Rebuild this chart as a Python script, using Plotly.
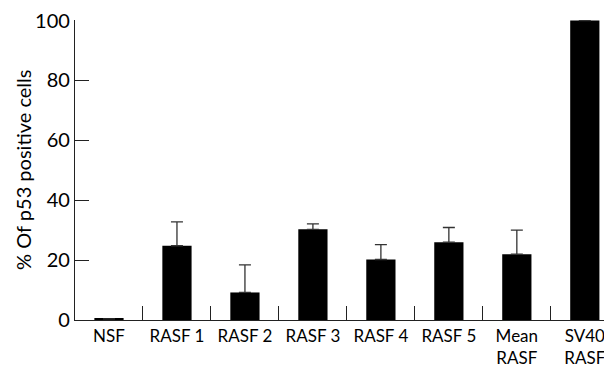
import plotly.graph_objects as go

categories = ["NSF", "RASF 1", "RASF 2", "RASF 3", "RASF 4", "RASF 5", "Mean<br>RASF", "SV40<br>RASF"]
values = [0.4, 24.8, 9.2, 30.3, 20.2, 26.0, 22.0, 100.0]
err_plus = [0.0, 8.0, 9.2, 1.8, 5.0, 4.9, 8.0, 0.0]

font_family = "Lato, 'DejaVu Sans', sans-serif"

fig = go.Figure()
fig.add_trace(go.Bar(
    x=categories,
    y=values,
    width=0.43,
    marker=dict(color="black", line=dict(width=0)),
    error_y=dict(type="data", array=err_plus, arrayminus=[0] * len(values),
                 symmetric=False, color="#333333", thickness=1.3, width=6),
    showlegend=False,
))

fig.update_layout(
    width=604, height=359,
    margin=dict(l=67, r=0, t=12, b=47),
    paper_bgcolor="white", plot_bgcolor="white",
    font=dict(family=font_family, color="black"),
    bargap=0.57,
)
fig.update_xaxes(
    type="category",
    range=[-0.5, 7.4],
    automargin=False,
    showline=True, linecolor="#222222", linewidth=1.3,
    ticks="inside", tickson="boundaries", ticklen=14, tickwidth=1.3, tickcolor="#222222",
    tickfont=dict(size=17),
    showgrid=False, zeroline=False,
)
fig.update_yaxes(
    range=[0, 100.2],
    automargin=False,
    tickvals=[0, 20, 40, 60, 80, 100],
    ticklabeloverflow="allow",
    showline=True, linecolor="#222222", linewidth=1.3,
    ticks="inside", ticklen=14, tickwidth=1.3, tickcolor="#222222",
    tickfont=dict(size=20),
    showgrid=False, zeroline=False,
)
fig.add_annotation(
    text="% Of p53 positive cells", textangle=-90,
    xref="paper", yref="paper", x=0, y=0.5, xanchor="center", yanchor="middle",
    xshift=-52, showarrow=False, font=dict(size=20),
)

fig.write_html("out.html")
